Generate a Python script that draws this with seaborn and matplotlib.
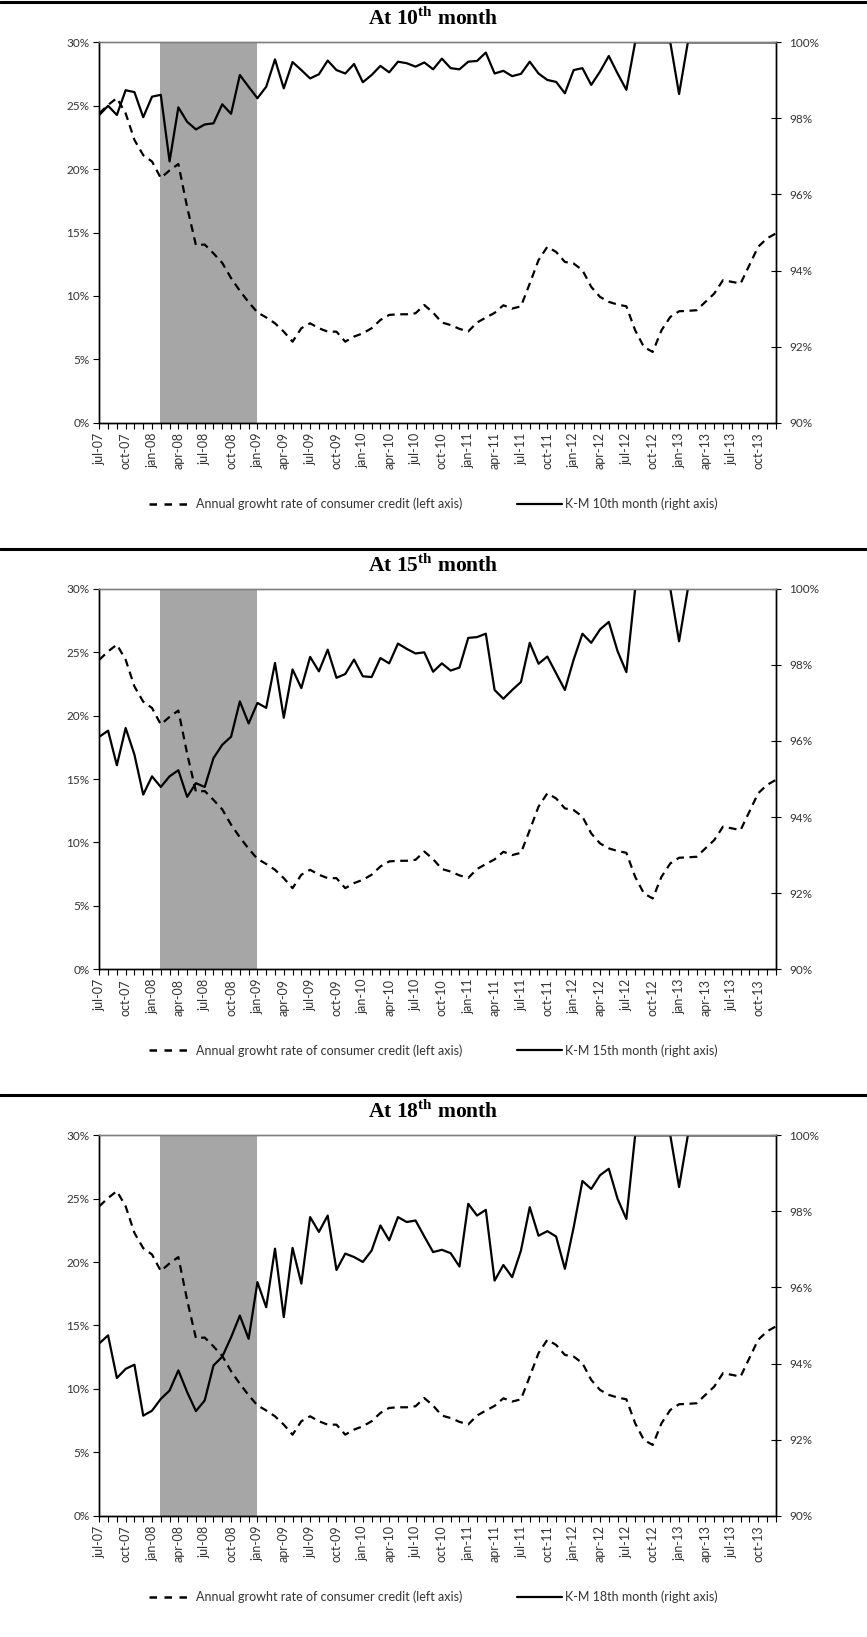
import numpy as np
import matplotlib
matplotlib.use('Agg')
import matplotlib.pyplot as plt
import seaborn as sns
from matplotlib.lines import Line2D

# monthly points, 0 = jul-07 ... 77 = dec-13
months = np.arange(78)
tick_labels = ['jul-07', 'oct-07', 'jan-08', 'apr-08', 'jul-08', 'oct-08', 'jan-09',
               'apr-09', 'jul-09', 'oct-09', 'jan-10', 'apr-10', 'jul-10', 'oct-10',
               'jan-11', 'apr-11', 'jul-11', 'oct-11', 'jan-12', 'apr-12', 'jul-12',
               'oct-12', 'jan-13', 'apr-13', 'jul-13', 'oct-13']

# crisis shading (feb-08 .. jan-09)
shade_start, shade_end = 6.9, 18.0

# annual growth rate of consumer credit (left axis, %)
credit_growth = [24.4, 25.06, 25.6, 24.4, 22.3, 21.1, 20.6, 19.3, 19.9, 20.4,
                 17.0, 14.0, 14.05, 13.35, 12.6, 11.4, 10.4, 9.5, 8.7, 8.3,
                 7.84, 7.18, 6.39, 7.45, 7.84, 7.45, 7.18, 7.18, 6.39, 6.79,
                 7.05, 7.45, 8.1, 8.5, 8.55, 8.55, 8.63, 9.28, 8.68, 7.9,
                 7.7, 7.4, 7.2, 7.9, 8.29, 8.66, 9.26, 9.0, 9.18, 10.97,
                 12.82, 13.87, 13.47, 12.68, 12.55, 12.03, 10.71, 9.92, 9.53, 9.32,
                 9.18, 7.29, 5.97, 5.58, 7.29, 8.34, 8.79, 8.82, 8.87, 9.53,
                 10.18, 11.24, 11.11, 10.97, 12.42, 13.87, 14.53, 14.92]

# Kaplan-Meier survival (right axis, %)
km_10 = [98.09, 98.33, 98.09, 98.74, 98.69, 98.03, 98.57, 98.62, 96.87, 98.29,
         97.91, 97.71, 97.84, 97.87, 98.37, 98.12, 99.14, 98.83, 98.53, 98.83,
         99.55, 98.79, 99.48, 99.27, 99.05, 99.16, 99.52, 99.27, 99.18, 99.43,
         98.95, 99.14, 99.38, 99.21, 99.49, 99.45, 99.36, 99.47, 99.29, 99.57,
         99.32, 99.29, 99.49, 99.51, 99.73, 99.18, 99.25, 99.11, 99.17, 99.49,
         99.18, 99.01, 98.96, 98.66, 99.27, 99.32, 98.88, 99.23, 99.64, 99.18,
         98.75, 100, 100, 100, 100, 100, 98.64, 100, 100, 100,
         100, 100, 100, 100, 100, 100, 100, 100]

km_15 = [96.11, 96.27, 95.36, 96.34, 95.64, 94.59, 95.07, 94.79, 95.07, 95.23,
         94.53, 94.89, 94.79, 95.55, 95.90, 96.11, 97.04, 96.46, 97.0, 96.87,
         98.05, 96.61, 97.88, 97.39, 98.21, 97.83, 98.40, 97.66, 97.76, 98.14,
         97.70, 97.68, 98.18, 98.04, 98.56, 98.42, 98.30, 98.33, 97.82, 98.04,
         97.85, 97.93, 98.71, 98.73, 98.82, 97.34, 97.11, 97.34, 97.55, 98.58,
         98.03, 98.22, 97.78, 97.34, 98.14, 98.82, 98.58, 98.93, 99.13, 98.36,
         97.81, 100, 100, 100, 100, 100, 98.62, 100, 100, 100,
         100, 100, 100, 100, 100, 100, 100, 100]

km_18 = [94.53, 94.74, 93.62, 93.86, 93.97, 92.63, 92.76, 93.07, 93.29, 93.82,
         93.25, 92.75, 93.03, 93.95, 94.18, 94.69, 95.26, 94.65, 96.14, 95.48,
         97.02, 95.22, 97.04, 96.10, 97.85, 97.46, 97.89, 96.46, 96.89, 96.80,
         96.67, 96.97, 97.63, 97.24, 97.85, 97.72, 97.76, 97.34, 96.93, 96.99,
         96.9, 96.55, 98.2, 97.89, 98.04, 96.18, 96.59, 96.27, 96.97, 98.11,
         97.36, 97.48, 97.34, 96.49, 97.58, 98.8, 98.59, 98.95, 99.12, 98.33,
         97.8, 100, 100, 100, 100, 100, 98.64, 100, 100, 100,
         100, 100, 100, 100, 100, 100, 100, 100]

panels = [('10', km_10), ('15', km_15), ('18', km_18)]

sns.set_style('white')
plt.rcParams['font.family'] = ['Lato', 'DejaVu Sans']
plt.rcParams['mathtext.fontset'] = 'custom'
plt.rcParams['mathtext.rm'] = 'Liberation Serif:bold'
plt.rcParams['mathtext.bf'] = 'Liberation Serif:bold'

W, H = 867, 1637
fig = plt.figure(figsize=(W / 100, H / 100), dpi=100)
txt_col = '#333333'

ax_left, ax_w, ax_h = 99.3, 676.4, 380.4
step = 546.5

for k, (nth, km) in enumerate(panels):
    top = 42.3 + k * step
    ax = fig.add_axes([ax_left / W, 1 - (top + ax_h) / H, ax_w / W, ax_h / H])
    ax2 = ax.twinx()

    ax.axvspan(shade_start, shade_end, color='#a6a6a6', lw=0, zorder=0)
    sns.lineplot(x=months, y=credit_growth, ax=ax, color='black', lw=1.6,
                 linestyle=(0, (3.5, 2.5)))
    sns.lineplot(x=months, y=km, ax=ax2, color='black', lw=1.6)

    ax.set_xlim(0, 77)
    ax.set_ylim(0, 30)
    ax2.set_ylim(90, 100)
    ax.set_yticks(range(0, 31, 5))
    ax.set_yticklabels([f'{v}%' for v in range(0, 31, 5)])
    ax2.set_yticks(range(90, 101, 2))
    ax2.set_yticklabels([f'{v}%' for v in range(90, 101, 2)])
    ax.set_xticks(months[::3])
    ax.set_xticklabels(tick_labels, rotation=90)
    ax.set_xticks(months, minor=True)

    for a in (ax, ax2):
        for s in a.spines.values():
            s.set_color('black')
            s.set_linewidth(1.0)
        a.spines['top'].set_color('#808080')
    ax.tick_params(axis='y', direction='out', length=4, width=0.8, colors='black',
                   labelcolor=txt_col, labelsize=8.5, pad=3, left=True)
    ax2.tick_params(axis='y', direction='inout', length=7, width=0.8, colors='black',
                    labelcolor=txt_col, labelsize=8.5, pad=6, right=True)
    ax.tick_params(axis='x', which='both', direction='out', length=4, width=0.8,
                   colors='black', labelcolor=txt_col, labelsize=9, pad=3, bottom=True)
    ax.set_xlabel('')
    ax.set_ylabel('')
    ax2.set_ylabel('')

    # horizontal rule and title above each panel
    rule_y = 1 - (2 + k * step) / H
    fig.add_artist(Line2D([0, 1], [rule_y, rule_y], color='black', lw=2.2))
    fig.text(433 / W, 1 - (19 + k * step) / H, r'At ' + nth + r'$^{\mathrm{th}}$ month',
             ha='center', va='center', fontsize=15.5, fontweight='bold',
             family='Liberation Serif', color='black')

    handles = [Line2D([], [], color='black', lw=1.8, linestyle=(0, (3, 3))),
               Line2D([], [], color='black', lw=1.6)]
    labels = ['Annual growht rate of consumer credit (left axis)',
              f'K-M {nth}th month (right axis)']
    leg = ax.legend(handles, labels, ncol=2, loc='center',
                    bbox_to_anchor=(433 / W, 1 - (504 + k * step) / H),
                    bbox_transform=fig.transFigure, frameon=False, fontsize=9,
                    handlelength=3.6, handletextpad=0.2, columnspacing=4.4)
    for t in leg.get_texts():
        t.set_color(txt_col)
    if ax2.get_legend() is not None:
        ax2.get_legend().remove()

fig.savefig('out.png', dpi=100)
